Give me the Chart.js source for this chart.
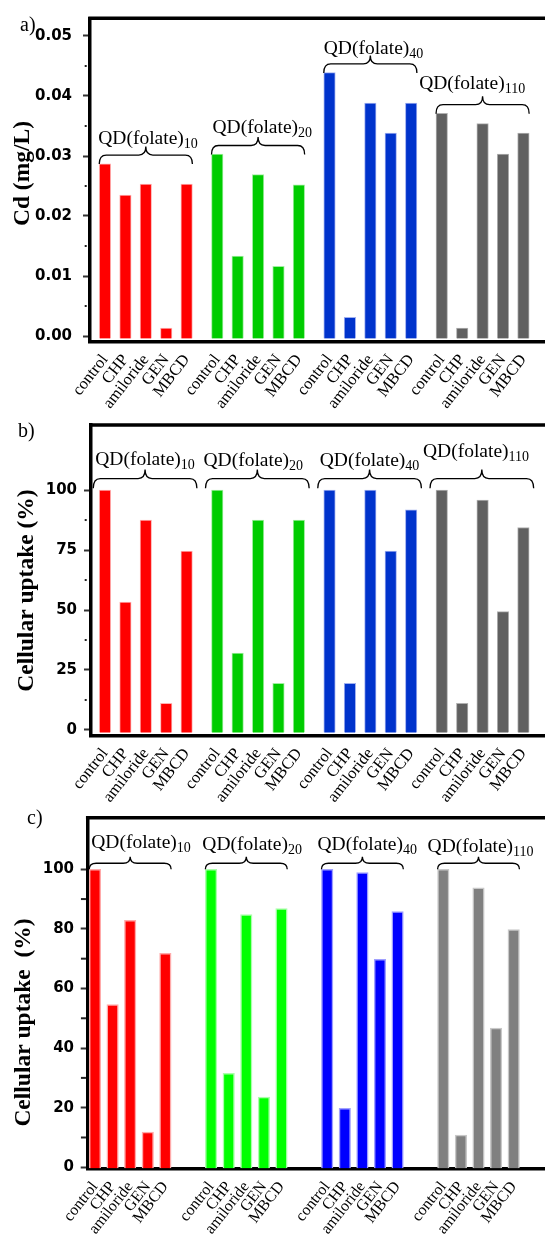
<!DOCTYPE html>
<html>
<head>
<meta charset="utf-8">
<script src="https://cdn.jsdelivr.net/npm/chart.js@4.4.0/dist/chart.umd.min.js"></script>
<style>
  body { margin: 0; background: #fff; width: 545px; height: 1235px; overflow: hidden; position: relative; }
  canvas.panel { position: absolute; left: 0; }
</style>
</head>
<body>
<canvas id="chart-a" class="panel" width="545" height="410" style="top:0px"></canvas>
<canvas id="chart-b" class="panel" width="545" height="395" style="top:410px"></canvas>
<canvas id="chart-c" class="panel" width="545" height="435" style="top:800px"></canvas>
<script>
// treatments on the x axis, repeated for every QD(folate)n conjugate
const treatments = ['control', 'CHP', 'amiloride', 'GEN', 'MBCD'];
const folateLoads = ['10', '20', '40', '110'];

// a) Cd (mg/L)
const cdFolate10 = [0.0287, 0.0235, 0.0253, 0.0013, 0.0253];
const cdFolate20 = [0.0303, 0.0133, 0.0269, 0.0116, 0.0252];
const cdFolate40 = [0.0439, 0.0031, 0.0388, 0.0338, 0.0388];
const cdFolate110 = [0.0371, 0.0013, 0.0354, 0.0303, 0.0338];
const cdTicks = [0, 0.01, 0.02, 0.03, 0.04, 0.05];

// b) Cellular uptake (%)
const uptakeB10 = [100, 53.3, 87.5, 11.1, 74.6];
const uptakeB20 = [100, 32.0, 87.5, 19.4, 87.5];
const uptakeB40 = [100, 19.4, 100, 74.6, 91.7];
const uptakeB110 = [100, 11.1, 95.8, 49.3, 84.4];
const uptakeBTicks = [0, 25, 50, 75, 100];

// c) Cellular uptake (%)
const uptakeC10 = [100, 54.6, 82.9, 11.8, 71.8];
const uptakeC20 = [100, 31.5, 84.8, 23.6, 86.8];
const uptakeC40 = [100, 19.8, 98.9, 69.8, 85.8];
const uptakeC110 = [100, 10.8, 93.8, 46.7, 79.8];
const uptakeCTicks = [0, 20, 40, 60, 80, 100];

const SERIF = 'Liberation Serif';

// Draw a curly brace over a group, returns the y of its tip
function drawBrace(ctx, x0, x1, yEnd, drop, rise) {
  const yLine = yEnd - drop;
  const yPeak = yLine - rise;
  const xm = (x0 + x1) / 2;
  const r = 7;
  ctx.beginPath();
  ctx.moveTo(x0, yEnd);
  ctx.quadraticCurveTo(x0, yLine, x0 + r, yLine);
  ctx.lineTo(xm - r, yLine);
  ctx.quadraticCurveTo(xm, yLine, xm, yPeak);
  ctx.quadraticCurveTo(xm, yLine, xm + r, yLine);
  ctx.lineTo(x1 - r, yLine);
  ctx.quadraticCurveTo(x1, yLine, x1, yEnd);
  ctx.stroke();
  return yPeak;
}

// "QD(folate)" with the folate load as subscript
function drawGroupLabel(ctx, sub, x, baseline, align) {
  const main = 'QD(folate)';
  ctx.font = '19.5px "' + SERIF + '"';
  const wMain = ctx.measureText(main).width;
  ctx.font = '14px "' + SERIF + '"';
  const wSub = ctx.measureText(sub).width;
  const start = align === 'right' ? x - wMain - wSub : x;
  ctx.textAlign = 'left';
  ctx.textBaseline = 'alphabetic';
  ctx.fillStyle = '#000';
  ctx.font = '19.5px "' + SERIF + '"';
  ctx.fillText(main, start, baseline);
  ctx.font = '14px "' + SERIF + '"';
  ctx.fillText(sub, start + wMain, baseline + 4);
}

function makePanel(cfg) {
  const canvas = document.getElementById(cfg.id);
  const top = cfg.pageTop;
  const step = treatments.length - 1 + cfg.gap;
  const xPos = folateLoads.flatMap((_, g) => treatments.map((_, i) => g * step + i));
  const xLabels = folateLoads.flatMap(() => treatments);

  const datasets = cfg.series.map((values, g) => ({
    label: 'QD(folate)' + folateLoads[g],
    data: values.map((v, i) => ({ x: g * step + i, y: v })),
    backgroundColor: cfg.colors[g],
    borderColor: cfg.edges[g],
    borderWidth: cfg.edgeWidth,
    maxBarThickness: cfg.barWidth,
    barPercentage: 1,
    categoryPercentage: 1,
    grouped: false,
    base: cfg.base,
  }));

  const decor = {
    id: 'decor',
    afterDraw(chart) {
      const { ctx, chartArea: area, scales: { x, y } } = chart;
      ctx.save();

      // top frame line
      ctx.strokeStyle = '#000';
      ctx.lineWidth = 3.5;
      ctx.beginPath();
      ctx.moveTo(area.left - 1.75, area.top);
      ctx.lineTo(area.right, area.top);
      ctx.stroke();

      // minor ticks
      ctx.fillStyle = '#222';
      cfg.minorTicks.forEach((v) => {
        const py = y.getPixelForValue(v);
        ctx.fillRect(area.left - cfg.minorEnd - cfg.minorLen, py - 1, cfg.minorLen, 2);
      });

      // braces + group labels
      ctx.lineWidth = 1.3;
      const half = cfg.barWidth / 2;
      cfg.series.forEach((values, g) => {
        const x0 = x.getPixelForValue(g * step) - half + cfg.braceLeft;
        const x1 = x.getPixelForValue(g * step + treatments.length - 1) + half + cfg.braceRight;
        const yEnd = y.getPixelForValue(values[0]) + cfg.braceEnd;
        const yPeak = drawBrace(ctx, x0, x1, yEnd, cfg.braceDrop, cfg.braceRise);
        const right = cfg.labelAlign[g] === 'right';
        drawGroupLabel(ctx, folateLoads[g], (right ? x1 : x0) + cfg.labelDx[g], yPeak + cfg.labelDy[g], cfg.labelAlign[g]);
      });

      // panel letter
      ctx.fillStyle = '#000';
      ctx.font = '20px "' + SERIF + '"';
      ctx.textAlign = 'left';
      ctx.textBaseline = 'alphabetic';
      ctx.fillText(cfg.letter, cfg.letterAt[0], cfg.letterAt[1] - top);

      // y axis title
      ctx.translate(cfg.titleAt[0], cfg.titleAt[1] - top);
      ctx.rotate(-Math.PI / 2);
      ctx.font = 'bold 23.5px "' + SERIF + '"';
      ctx.textAlign = 'center';
      ctx.textBaseline = 'middle';
      ctx.fillText(cfg.title, 0, 0);
      ctx.restore();
    },
  };

  return new Chart(canvas, {
    type: 'bar',
    data: { datasets },
    options: {
      responsive: false,
      animation: false,
      devicePixelRatio: 1,
      layout: { padding: { top: cfg.areaTop - top, left: 0, right: 0, bottom: 0 } },
      plugins: { legend: { display: false }, tooltip: { enabled: false } },
      scales: {
        x: {
          type: 'linear',
          offset: false,
          min: cfg.xMin,
          max: cfg.xMax,
          afterBuildTicks: (axis) => { axis.ticks = xPos.map((v) => ({ value: v })); },
          afterFit: (axis) => {
            axis.height = cfg.xAxisHeight;
            axis.paddingLeft = 0;
            axis.paddingRight = 0;
          },
          grid: { display: false, drawTicks: false, offset: false },
          border: { display: true, color: '#000', width: 3.5 },
          ticks: {
            autoSkip: false,
            minRotation: 52,
            maxRotation: 52,
            padding: cfg.xPad,
            color: '#000',
            font: { family: SERIF, size: cfg.xFont },
            callback: (v, i) => xLabels[i],
          },
        },
        y: {
          min: cfg.yMin,
          max: cfg.yMax,
          afterBuildTicks: (axis) => { axis.ticks = cfg.yTicks.map((v) => ({ value: v })); },
          afterFit: (axis) => {
            axis.width = cfg.yAxisWidth;
            axis.paddingTop = 0;
            axis.paddingBottom = 0;
          },
          grid: { display: true, drawOnChartArea: false, drawTicks: true, tickLength: 7, tickWidth: 2, tickColor: '#333' },
          border: { display: true, color: '#000', width: 3.5 },
          ticks: {
            padding: cfg.yPad,
            color: '#000',
            font: { family: 'DejaVu Sans', weight: 'bold', size: 15 },
            callback: (v) => cfg.fmt(v),
          },
        },
      },
    },
    plugins: [decor],
  });
}

// a) Cd content
makePanel({
  id: 'chart-a', pageTop: 0, areaTop: 18.3, xAxisHeight: 68.3,
  series: [cdFolate10, cdFolate20, cdFolate40, cdFolate110],
  colors: ['#ff0000', '#00cc00', '#0033cc', '#606060'],
  edges: ['#ffb0b0', '#a0eea0', '#a0b0f0', '#b0b0b0'], edgeWidth: 1,
  gap: 1.5, barWidth: 11.5, xMin: -0.735, xMax: 21.558, xPad: 9, xFont: 16.5,
  yMin: -0.00095, yMax: 0.05295, base: -0.0004, yTicks: cdTicks,
  fmt: (v) => v.toFixed(2), yAxisWidth: 90, yPad: 11,
  minorTicks: [0.005, 0.015, 0.025, 0.035, 0.045], minorLen: 2, minorEnd: 3.3,
  braceLeft: 0, braceRight: 0, braceEnd: 0.3, braceDrop: 9, braceRise: 8.5,
  labelAlign: ['left', 'left', 'left', 'right'], labelDx: [-1, 1, 0, -4], labelDy: [-2.7, -3.7, -1.6, -7.7],
  letter: 'a)', letterAt: [20, 31], title: 'Cd (mg/L)', titleAt: [23, 173.5],
});

// b) cellular uptake
makePanel({
  id: 'chart-b', pageTop: 410, areaTop: 425, xAxisHeight: 69.5,
  series: [uptakeB10, uptakeB20, uptakeB40, uptakeB110],
  colors: ['#ff0000', '#00cc00', '#0033cc', '#606060'],
  edges: ['#ffb0b0', '#a0eea0', '#a0b0f0', '#b0b0b0'], edgeWidth: 1,
  gap: 1.5, barWidth: 11.5, xMin: -0.686, xMax: 21.558, xPad: 9, xFont: 16.5,
  yMin: -2.3, yMax: 127.1, base: -1.1, yTicks: uptakeBTicks,
  fmt: (v) => String(v), yAxisWidth: 91, yPad: 7,
  minorTicks: [12.5, 37.5, 62.5, 87.5], minorLen: 2, minorEnd: 4.3,
  braceLeft: -6, braceRight: 4.5, braceEnd: -1.7, braceDrop: 9.8, braceRise: 9,
  labelAlign: ['left', 'left', 'left', 'left'], labelDx: [2, -2, 2, -7], labelDy: [-5, -3.5, -3.5, -13],
  letter: 'b)', letterAt: [18, 437], title: 'Cellular uptake (%)', titleAt: [27, 590.5],
});

// c) cellular uptake
makePanel({
  id: 'chart-c', pageTop: 800, areaTop: 817.7, xAxisHeight: 66,
  series: [uptakeC10, uptakeC20, uptakeC40, uptakeC110],
  colors: ['#ff0000', '#00ff00', '#0000ff', '#808080'],
  edges: ['#ffaaaa', '#aaffaa', '#a0a0ff', '#c8c8c8'], edgeWidth: 1.5,
  gap: 2.6, barWidth: 11.5, xMin: -0.415, xMax: 25.58, xPad: 9, xFont: 16,
  yMin: -0.57, yMax: 117.3, base: -0.3, yTicks: uptakeCTicks,
  fmt: (v) => String(v), yAxisWidth: 87.7, yPad: 6.7,
  minorTicks: [10, 30, 50, 70, 90], minorLen: 5, minorEnd: 1.75,
  braceLeft: 0, braceRight: 0, braceEnd: 0, braceDrop: 6, braceRise: 6.6,
  labelAlign: ['left', 'left', 'left', 'left'], labelDx: [2, -3, -4, -10], labelDy: [-9, -7, -7, -5],
  letter: 'c)', letterAt: [27, 824], title: 'Cellular uptake  (%)', titleAt: [24, 1022.5],
});
</script>
</body>
</html>
